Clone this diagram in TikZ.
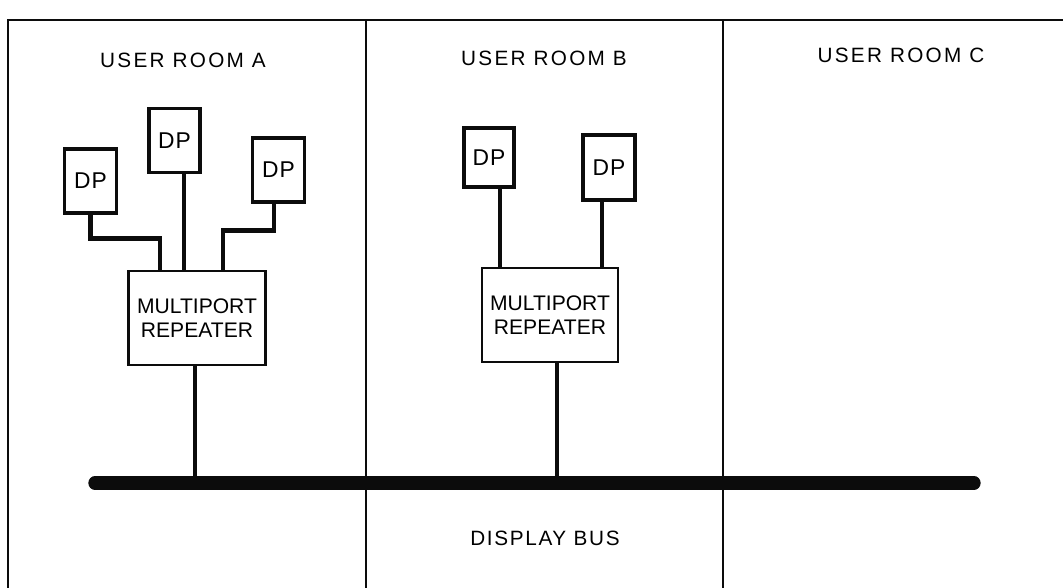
\documentclass[tikz,border=0pt]{standalone}
\usepackage{fontspec}
\setmainfont{Liberation Sans}
\newfontfamily\roomfont[LetterSpace=11]{Liberation Sans}
\newfontfamily\busfont[LetterSpace=8]{Liberation Sans}
\newfontfamily\dpfont[LetterSpace=5]{Liberation Sans}
\usetikzlibrary{calc}
\definecolor{inkblack}{RGB}{12,12,12}

\begin{document}
\begin{tikzpicture}[x=0.02cm, y=-0.02cm,
    wall/.style={draw=inkblack, line width=1.7pt},
    partition/.style={draw=inkblack, line width=1.3pt},
    dpbox/.style={draw=inkblack, line width=1.8pt, fill=white, minimum width=1.04cm, minimum height=1.28cm, inner sep=0pt, font=\dpfont\fontsize{13}{15}\selectfont},
    repeater/.style={draw=inkblack, line width=1.3pt, fill=white, minimum width=2.74cm, minimum height=1.88cm, inner sep=0pt, align=center, font=\fontsize{12}{13.7}\selectfont},
    link/.style={draw=inkblack, line width=2.7pt},
    drop/.style={draw=inkblack, line width=2.4pt},
    busline/.style={draw=inkblack, line width=7.6pt, line cap=round},
    roomlabel/.style={font=\roomfont\fontsize{11.8}{13}\selectfont},
    buslabel/.style={font=\busfont\fontsize{11.8}{14}\selectfont}
]
\useasboundingbox (0,0) rectangle (1063,588);

% 1. ROOM WALLS
\draw[wall] (8,588) -- (8,20) -- (1063,20);
\draw[partition] (366,20) -- (366,588);
\draw[partition] (723,20) -- (723,588);

% Room names
\node[roomlabel] (rooma) at (183,60) {USER ROOM A};
\node[roomlabel] (roomb) at (544,58) {USER ROOM B};
\node[roomlabel] (roomc) at (901,55) {USER ROOM C};

% 2. DISPLAY BUS
\coordinate (busw) at (95,483);
\coordinate (buse) at (974,483);
\draw[busline] (busw) -- (buse);
\node[buslabel] (busname) at (545,538) {DISPLAY BUS};

% 3. ROOM A
\node[dpbox] (dpa1) at (90.5,181) {DP};
\node[dpbox, minimum width=1.02cm] (dpa2) at (174.5,140.5) {DP};
\node[dpbox] (dpa3) at (278.5,170) {DP};
\node[repeater] (mpa) at (197,318) {MULTIPORT\\REPEATER};

\coordinate (pa1) at ($(mpa.north)+(-37,0)$);
\coordinate (pa2) at ($(mpa.north)+(-13,0)$);
\coordinate (pa3) at ($(mpa.north)+(26,0)$);
\draw[link] (dpa1.south) |- ($(pa1)+(0,-31)$) -- (pa1);
\draw[link] (dpa2.south -| pa2) -- (pa2);
\draw[link] ($(dpa3.south)+(-4.5,0)$) |- ($(pa3)+(0,-39)$) -- (pa3);

\coordinate (tapa) at (195,483);
\draw[drop] (mpa.south -| tapa) -- (tapa);

% 4. ROOM B
\node[dpbox, minimum width=1.0cm, minimum height=1.18cm] (dpb1) at (489,157.5) {DP};
\node[dpbox, minimum height=1.3cm] (dpb2) at (609,167.5) {DP};
\node[repeater, minimum width=2.72cm] (mpb) at (550,315) {MULTIPORT\\REPEATER};

\coordinate (pb1) at ($(mpb.north)+(-50,0)$);
\coordinate (pb2) at ($(mpb.north)+(52,0)$);
\draw[drop] (dpb1.south -| pb1) -- (pb1);
\draw[drop] (dpb2.south -| pb2) -- (pb2);

\coordinate (tapb) at (557,483);
\draw[drop] (mpb.south -| tapb) -- (tapb);

\end{tikzpicture}
\end{document}
